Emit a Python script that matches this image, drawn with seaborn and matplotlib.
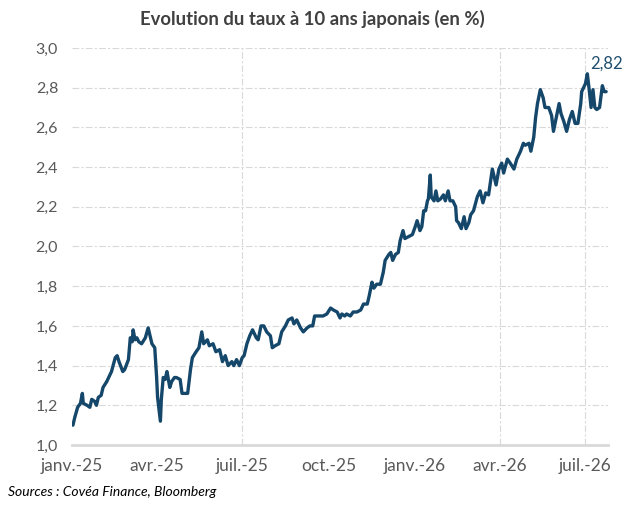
import pandas as pd
import numpy as np
import matplotlib
matplotlib.use('Agg')
import matplotlib.pyplot as plt
import matplotlib.dates as mdates
from matplotlib.ticker import FuncFormatter
import seaborn as sns

# taux 10 ans japonais (jours depuis le 1er janv. 2025)
days = [1, 3, 6, 9, 11, 12, 16, 19, 21, 24, 26, 28, 31, 33, 37, 39, 42, 46, 48, 50,
        54, 56, 60, 62, 64, 65, 67, 69, 71, 74, 78, 81, 83, 85, 88, 90, 91, 93, 94, 95,
        97, 99, 101, 104, 106, 109, 111, 115, 117, 120, 123, 126, 128, 132, 135, 138, 140, 144, 146, 150,
        153, 157, 160, 163, 166, 170, 172, 175, 178, 181, 183, 186, 189, 192, 196, 198, 201, 204, 207, 211,
        213, 216, 220, 223, 227, 230, 234, 236, 239, 243, 246, 250, 253, 256, 258, 260, 264, 267, 271, 275,
        278, 282, 285, 287, 290, 292, 296, 299, 303, 307, 310, 314, 316, 319, 321, 324, 328, 331, 333, 337,
        339, 341, 344, 347, 349, 352, 354, 358, 362, 365, 367, 370, 372, 374, 376, 378, 379, 381, 382, 385,
        387, 389, 392, 395, 397, 400, 402, 405, 408, 409, 411, 414, 417, 419, 422, 424, 427, 431, 433, 434,
        437, 440, 443, 447, 449, 451, 454, 457, 459, 463, 466, 470, 473, 477, 480, 482, 486, 488, 491, 493,
        495, 498, 501, 503, 507, 510, 512, 515, 518, 520, 523, 526, 529, 532, 535, 538, 541, 542, 546, 548,
        550, 552, 554, 556, 558, 561, 564, 566, 568]
taux = [1.10, 1.14, 1.19, 1.21, 1.26, 1.21, 1.20, 1.19, 1.23, 1.22, 1.20, 1.24, 1.25, 1.29, 1.32, 1.34, 1.37, 1.44, 1.45, 1.42,
        1.37, 1.38, 1.43, 1.54, 1.52, 1.58, 1.53, 1.54, 1.52, 1.51, 1.54, 1.59, 1.55, 1.51, 1.49, 1.34, 1.24, 1.16, 1.12, 1.23,
        1.34, 1.33, 1.37, 1.29, 1.32, 1.34, 1.34, 1.33, 1.26, 1.26, 1.26, 1.38, 1.44, 1.47, 1.49, 1.57, 1.51, 1.53, 1.50, 1.51,
        1.47, 1.48, 1.42, 1.45, 1.40, 1.42, 1.40, 1.43, 1.40, 1.44, 1.45, 1.51, 1.55, 1.58, 1.54, 1.53, 1.60, 1.60, 1.57, 1.55,
        1.49, 1.50, 1.51, 1.57, 1.60, 1.63, 1.64, 1.61, 1.63, 1.59, 1.57, 1.59, 1.60, 1.60, 1.65, 1.65, 1.65, 1.65, 1.66, 1.69,
        1.68, 1.67, 1.64, 1.66, 1.65, 1.66, 1.65, 1.67, 1.67, 1.68, 1.71, 1.71, 1.75, 1.82, 1.79, 1.81, 1.81, 1.87, 1.93, 1.96,
        1.97, 1.93, 1.96, 1.97, 2.03, 2.08, 2.04, 2.05, 2.06, 2.10, 2.13, 2.08, 2.10, 2.18, 2.18, 2.23, 2.24, 2.36, 2.25, 2.23,
        2.28, 2.23, 2.24, 2.26, 2.23, 2.28, 2.23, 2.23, 2.20, 2.13, 2.12, 2.09, 2.15, 2.09, 2.12, 2.16, 2.18, 2.25, 2.27, 2.28,
        2.22, 2.27, 2.26, 2.39, 2.35, 2.31, 2.39, 2.42, 2.37, 2.44, 2.42, 2.39, 2.44, 2.48, 2.52, 2.51, 2.52, 2.48, 2.55, 2.65,
        2.72, 2.79, 2.75, 2.70, 2.70, 2.66, 2.58, 2.65, 2.72, 2.67, 2.63, 2.58, 2.64, 2.68, 2.62, 2.62, 2.72, 2.78, 2.82, 2.87,
        2.79, 2.70, 2.79, 2.70, 2.69, 2.70, 2.81, 2.78, 2.78]

tick_dates = ['2025-01-01', '2025-04-01', '2025-07-01', '2025-10-01', '2026-01-01', '2026-04-01', '2026-07-01']
tick_labels = ['janv.-25', 'avr.-25', 'juil.-25', 'oct.-25', 'janv.-26', 'avr.-26', 'juil.-26']
vgrid_dates = ['2025-07-01', '2026-04-01', '2026-07-01']
last_label = '2,82'

start = pd.Timestamp('2025-01-01')
df = pd.DataFrame({'date': start + pd.to_timedelta(days, unit='D'), 'taux': taux})

sns.set_style('white')
plt.rcParams['font.family'] = ['Lato', 'DejaVu Sans']

fig = plt.figure(figsize=(6.25, 5.05), dpi=100)
ax = fig.add_axes([0.1152, 0.1188, 0.8576, 0.7862])

grid_col = '#d9d9d9'
for v in np.arange(1.2, 3.01, 0.2):
    ax.axhline(v, color=grid_col, lw=0.8, dashes=(6, 2, 2, 2), zorder=0)
for d in vgrid_dates:
    ax.axvline(pd.Timestamp(d), color=grid_col, lw=0.8, dashes=(6, 2, 2, 2), zorder=0)

sns.lineplot(data=df, x='date', y='taux', ax=ax, color='#15476a', lw=2.4)

ax.set_ylim(1.0, 3.0)
ax.set_xlim(start, start + pd.Timedelta(days=570))
ax.set_yticks(np.arange(1.0, 3.01, 0.2))
ax.yaxis.set_major_formatter(FuncFormatter(lambda v, p: f'{v:.1f}'.replace('.', ',')))
ax.set_xticks(pd.to_datetime(tick_dates))
ax.set_xticklabels(tick_labels)
ax.xaxis.set_minor_locator(mdates.MonthLocator())

ax.set_xlabel('')
ax.set_ylabel('')
for s in ['left', 'top', 'right']:
    ax.spines[s].set_visible(False)
ax.spines['bottom'].set_color(grid_col)
ax.spines['bottom'].set_linewidth(2)

ax.tick_params(axis='y', length=0, pad=10, labelsize=11.5, labelcolor='#595959')
ax.tick_params(axis='x', which='major', direction='inout', length=8, width=2, color=grid_col,
               pad=5, labelsize=12.5, labelcolor='#595959')
ax.tick_params(axis='x', which='minor', direction='in', length=4, width=1, color=grid_col)

ax.annotate(last_label, xy=(df['date'].iloc[-1], df['taux'].iloc[-1]), xytext=(0, 20),
            textcoords='offset points', ha='center', va='center', fontsize=12, color='#1f4e6e')

fig.text(0.5, 0.962, 'Evolution du taux à 10 ans japonais (en %)', ha='center', va='center',
         fontsize=13.3, fontweight='bold', color='#404040')
fig.text(0.013, 0.025, 'Sources : Covéa Finance, Bloomberg', ha='left', va='center',
         fontsize=10, style='italic', color='#000000')

fig.savefig('out.png', dpi=100)
